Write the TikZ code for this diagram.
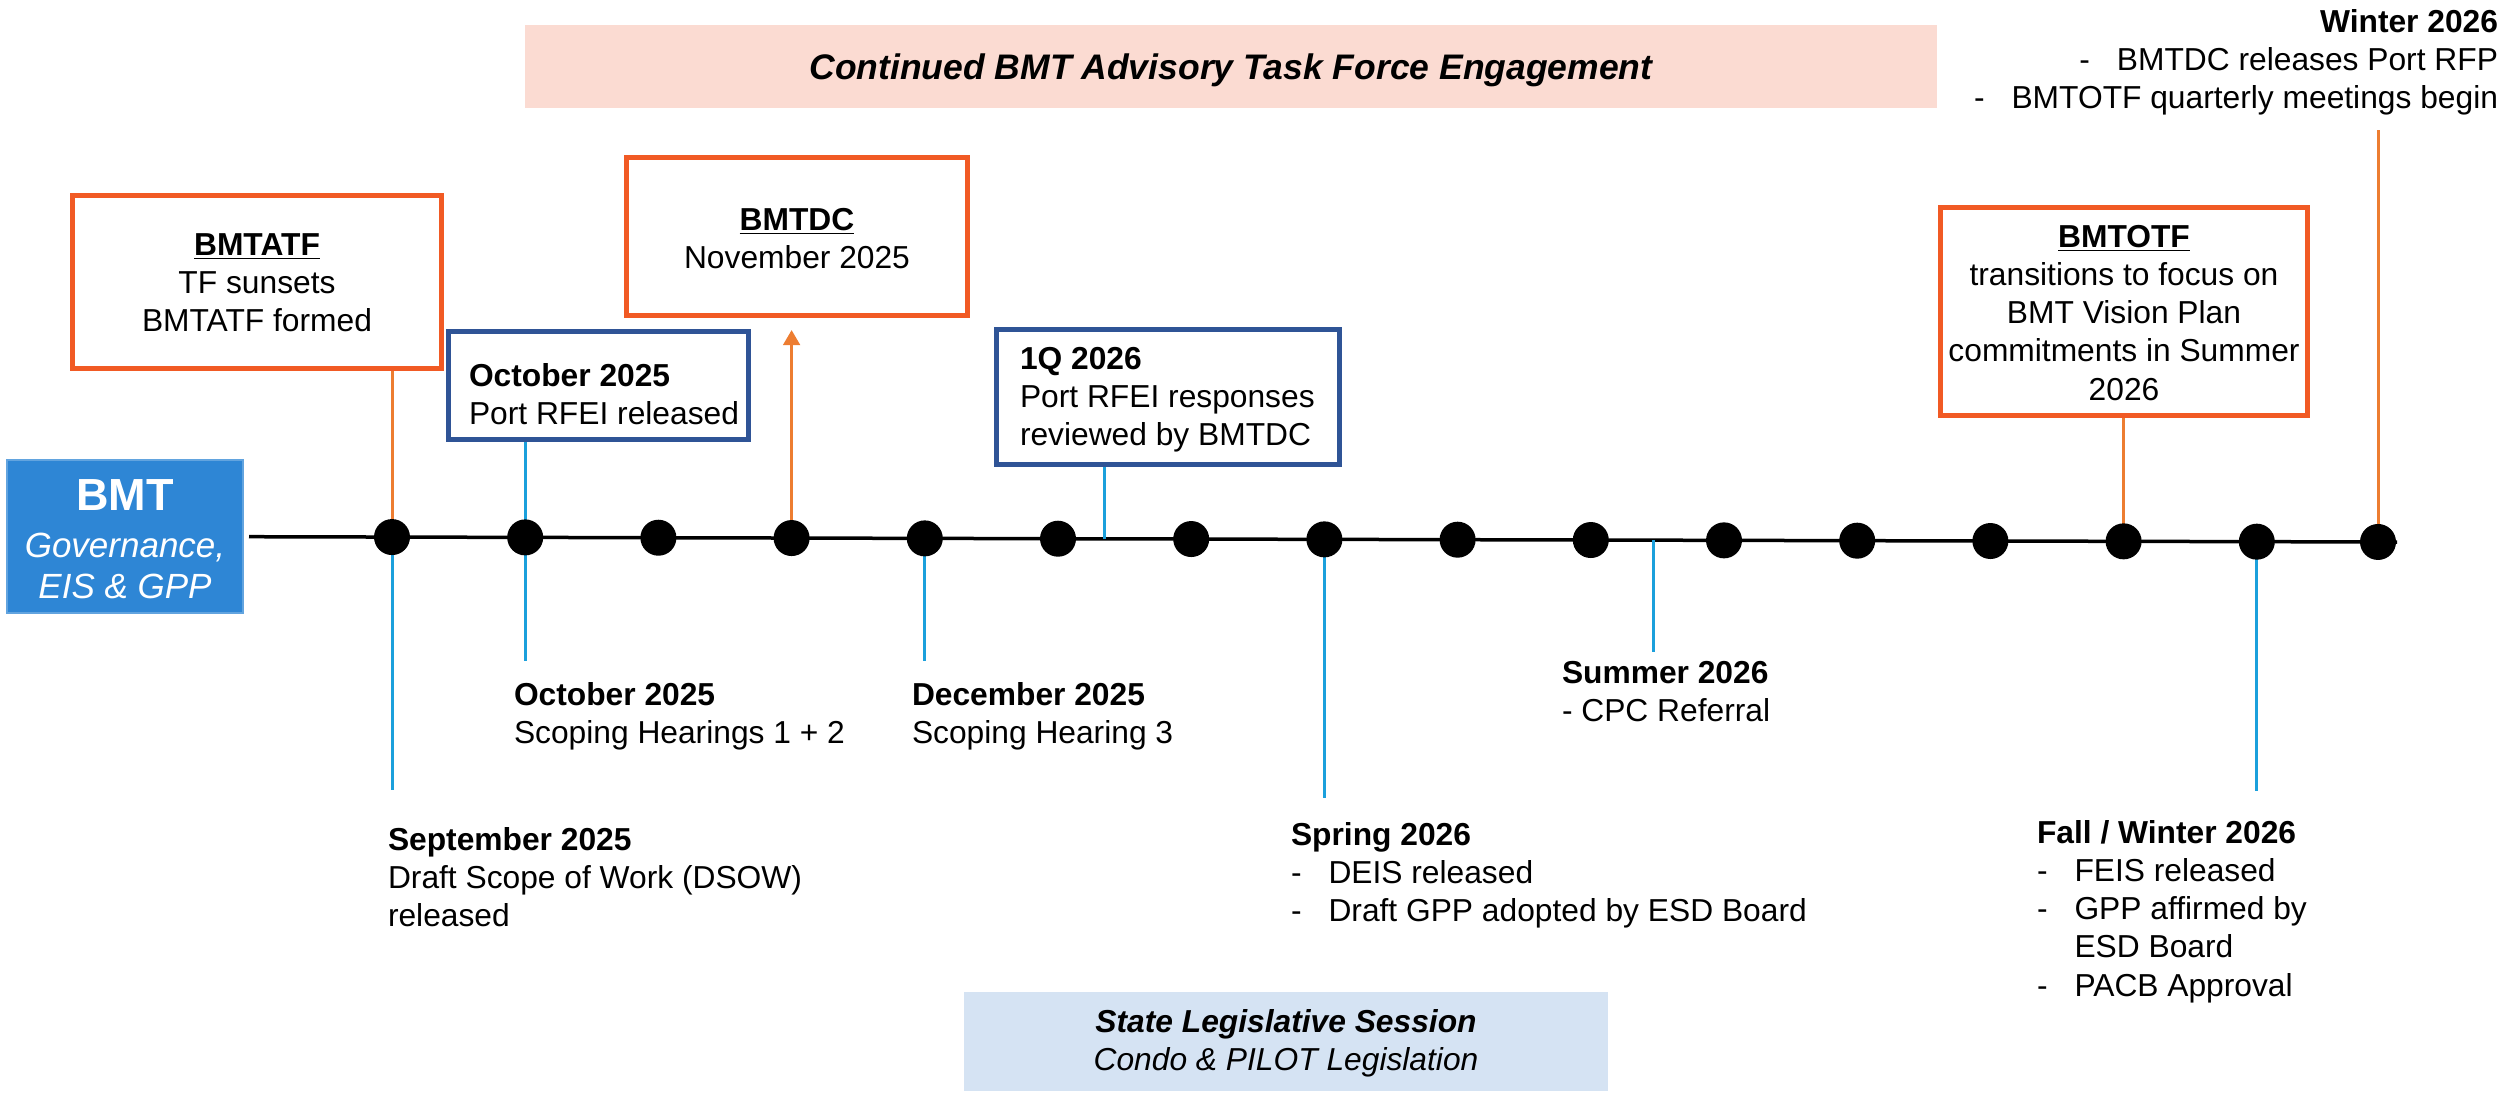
\documentclass[tikz,border=0pt]{standalone}
\usepackage{fontspec}
\setmainfont{Liberation Sans}
\usetikzlibrary{arrows.meta}
\definecolor{obox}{RGB}{241,90,36}
\definecolor{oline}{RGB}{237,125,49}
\definecolor{dblue}{RGB}{47,84,150}
\definecolor{cline}{RGB}{27,160,220}
\definecolor{bmtblue}{RGB}{46,134,213}
\definecolor{pinkband}{RGB}{251,219,210}
\definecolor{lblue}{RGB}{213,227,243}
\newcommand\bul{\makebox[15pt][l]{-}}
\newcommand\stdfont{\fontsize{12.7}{15.3}\selectfont}
\newcommand\linesL[1]{\begin{tabular}[t]{@{}l@{}}#1\end{tabular}}
\newcommand\linesC[1]{\begin{tabular}[t]{@{}c@{}}#1\end{tabular}}
\newcommand\linesR[1]{\begin{tabular}[t]{@{}r@{}}#1\end{tabular}}
\pgfdeclarelayer{bg}
\pgfsetlayers{bg,main}
\begin{document}
\begin{tikzpicture}[x=0.4pt,y=-0.4pt,
  every node/.style={inner sep=0pt, outer sep=0pt, font=\stdfont},
  obx/.style={draw=obox, line width=2pt, fill=white},
  bbx/.style={draw=dblue, line width=2pt, fill=white},
  dot/.style={circle, fill=black, minimum size=14.4pt},
  oconn/.style={draw=oline, line width=1.2pt},
  cconn/.style={draw=cline, line width=1.2pt},
  tline/.style={draw=black, line width=1.4pt},
  lbl/.style={anchor=base west},
  clbl/.style={anchor=base}
]
\useasboundingbox (0,0) rectangle (2509,1095);

% bands
\node[fill=pinkband, minimum width=564.8pt, minimum height=33.2pt,
      font=\fontsize{14.2}{17}\selectfont\bfseries\itshape,
      text height=10.2pt, text depth=0pt] (band1) at (1231,66.5)
      {Continued BMT Advisory Task Force Engagement};
\node[fill=lblue, minimum width=257.8pt, minimum height=39.6pt] (band2) at (1285.75,1041.5) {};
\node[clbl] (band2t) at (1286,1032)
  {\linesC{\bfseries\itshape State Legislative Session\\\itshape Condo \& PILOT Legislation}};

% BMT box
\node[fill=bmtblue, draw=bmtblue!75!white, line width=0.5pt,
      minimum width=94.4pt, minimum height=61.2pt] (bmt) at (125,536.5) {};
\node[clbl, text=white, font=\fontsize{18}{20}\selectfont\bfseries] (bmtt) at (125,510) {BMT};
\node[clbl, text=white, font=\fontsize{14}{16.4}\selectfont\itshape] (bmts) at (125,557)
  {\linesC{Governance,\\EIS \& GPP}};

% boxes above
\node[obx, minimum width=147.2pt, minimum height=69.2pt] (atf) at (257,281.5) {};
\node[clbl] (atft) at (257,255) {\linesC{\underline{\textbf{BMTATF}}\\TF sunsets\\BMTATF formed}};

\node[obx, minimum width=136.4pt, minimum height=63.2pt] (bdc) at (797,236.5) {};
\node[clbl] (bdct) at (797,230) {\linesC{\underline{\textbf{BMTDC}}\\November 2025}};

\node[bbx, minimum width=120pt, minimum height=43.2pt] (oct) at (598.5,385.5) {};
\node[lbl] (octt) at (469,386) {\linesL{\textbf{October 2025}\\Port RFEI released}};

\node[bbx, minimum width=137.2pt, minimum height=54pt] (q1) at (1168,397) {};
\node[lbl] (q1t) at (1020,369) {\linesL{\textbf{1Q 2026}\\Port RFEI responses\\reviewed by BMTDC}};

\node[obx, minimum width=146.8pt, minimum height=83.2pt] (otf) at (2124,311.5) {};
\node[clbl] (otft) at (2124,247)
  {\linesC{\underline{\textbf{BMTOTF}}\\transitions to focus on\\BMT Vision Plan\\commitments in Summer\\2026}};

\node[anchor=base east] (wint) at (2498,32)
  {\linesR{\textbf{Winter 2026}\\\bul BMTDC releases Port RFP\\\bul BMTOTF quarterly meetings begin}};

% labels below
\node[lbl] (sept) at (388,850) {\linesL{\textbf{September 2025}\\Draft Scope of Work (DSOW)\\released}};
\node[lbl] (octb) at (514,705) {\linesL{\textbf{October 2025}\\Scoping Hearings 1 + 2}};
\node[lbl] (dect) at (912,705) {\linesL{\textbf{December 2025}\\Scoping Hearing 3}};
\node[lbl] (sumt) at (1562,683) {\linesL{\textbf{Summer 2026}\\- CPC Referral}};
\node[lbl] (sprt) at (1291,845) {\linesL{\textbf{Spring 2026}\\\bul DEIS released\\\bul Draft GPP adopted by ESD Board}};
\node[lbl] (fwt) at (2037,843) {\linesL{\textbf{Fall / Winter 2026}\\\bul FEIS released\\\bul GPP affirmed by\\\makebox[15pt]{}ESD Board\\\bul PACB Approval}};

% dots
\foreach \xx [count=\i] in {392,525.2,658.4,791.6,924.8,1058,1191.2,1324.4,1457.6,1590.8,1724,1857.2,1990.4,2123.6,2256.8,2378} {
  \pgfmathsetmacro\yy{536.7+(\xx-249)*0.002467}
  \node[dot] (d\i) at (\xx,\yy) {};
}

% free ends
\coordinate (tl0) at (249,536.7);
\coordinate (tl1) at (2397,542);
\coordinate (e1) at (392,790);
\coordinate (e2) at (525.2,661);
\coordinate (a4) at (791.6,330);
\coordinate (e5) at (924.8,661);
\coordinate (t1) at (1104,538.8);
\coordinate (e8) at (1324.4,798);
\coordinate (t2) at (1653,540.2);
\coordinate (e9) at (1653,652);
\coordinate (e15) at (2256.8,791);
\coordinate (e16) at (2378,130);

\begin{pgfonlayer}{bg}
  \draw[tline] (tl0) -- (tl1);
  \draw[oconn] (atf.south -| d1) -- (d1.center);
  \draw[cconn] (d1.center) -- (e1);
  \draw[cconn] (oct.south -| d2) -- (d2.center);
  \draw[cconn] (d2.center) -- (e2);
  \draw[oconn, -{Triangle[width=6.6pt,length=6pt]}] (d4.center) -- (a4);
  \draw[cconn] (d5.center) -- (e5);
  \draw[cconn] (q1.south -| t1) -- (t1);
  \draw[cconn] (d8.center) -- (e8);
  \draw[cconn] (t2) -- (e9);
  \draw[oconn] (otf.south -| d14) -- (d14.center);
  \draw[cconn] (d15.center) -- (e15);
  \draw[oconn] (d16.center) -- (e16);
\end{pgfonlayer}
\end{tikzpicture}
\end{document}
